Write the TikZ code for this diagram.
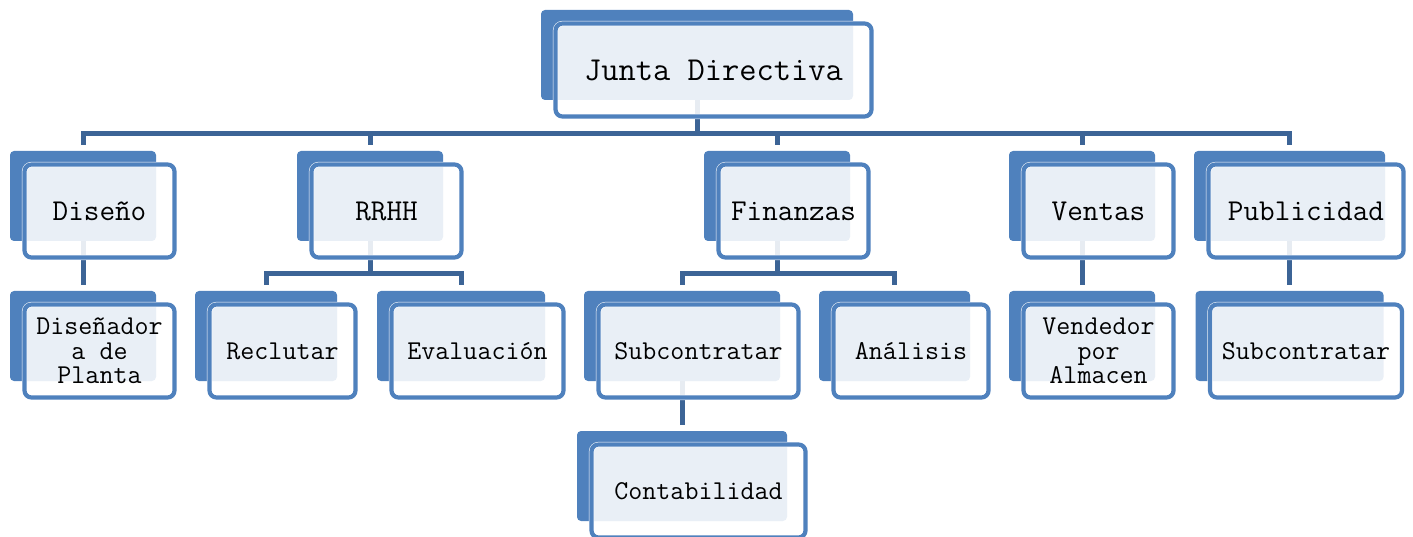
\documentclass[tikz,border=0pt]{standalone}
\usepackage{fontspec}
\usetikzlibrary{backgrounds}

\definecolor{azul}{HTML}{4F81BD}
\definecolor{linea}{HTML}{3C6496}

\tikzset{
    atras/.style={rectangle, rounded corners=4pt, fill=azul, minimum height=90pt, inner sep=0pt},
    frente/.style={rectangle, rounded corners=7pt, draw=white, double=azul, line width=0.5pt,
        double distance=4.2pt, fill=white, fill opacity=0.88, text opacity=1, minimum height=93pt,
        inner sep=0pt, align=center, font=\ttfamily\fontsize{27.2}{24.6}\selectfont},
    grande/.style={font=\ttfamily\fontsize{30.3}{32}\selectfont},
    titulo/.style={font=\ttfamily\fontsize{33.5}{35}\selectfont},
    conector/.style={draw=linea, line width=5pt},
}

\begin{document}
\begin{tikzpicture}[x=1pt, y=-1pt]
        \useasboundingbox (0,0) rectangle (1413,537);

        \node[atras, minimum width=312pt] (junta) at (697, 55) {};
        \node[frente, titulo, minimum width=316pt] (junta-t) at (713.5, 70) {Junta Directiva};

        \node[atras, minimum width=146pt] (diseno) at (83, 196) {};
        \node[frente, grande, minimum width=150pt] (diseno-t) at (99.5, 211) {Diseño};
        \node[atras, minimum width=146pt] (rrhh) at (370, 196) {};
        \node[frente, grande, minimum width=150pt] (rrhh-t) at (386.5, 211) {RRHH};
        \node[atras, minimum width=146pt] (finanzas) at (777, 196) {};
        \node[frente, grande, minimum width=150pt] (finanzas-t) at (793.5, 211) {Finanzas};
        \node[atras, minimum width=146pt] (ventas) at (1082, 196) {};
        \node[frente, grande, minimum width=150pt] (ventas-t) at (1098.5, 211) {Ventas};
        \node[atras, minimum width=191pt] (publicidad) at (1289.5, 196) {};
        \node[frente, grande, minimum width=195pt] (publicidad-t) at (1306, 211) {Publicidad};

        \node[atras, minimum width=146pt] (disenador) at (83, 336) {};
        \node[frente, minimum width=150pt] (disenador-t) at (99.5, 351) {Diseñador\\a de\\Planta};
        \node[atras, minimum width=142pt] (reclutar) at (266, 336) {};
        \node[frente, minimum width=146pt] (reclutar-t) at (282.5, 351) {Reclutar};
        \node[atras, minimum width=168pt] (evaluacion) at (461, 336) {};
        \node[frente, minimum width=172pt] (evaluacion-t) at (477.5, 351) {Evaluación};
        \node[atras, minimum width=196pt] (subcontratar) at (682, 336) {};
        \node[frente, minimum width=200pt] (subcontratar-t) at (698.5, 351) {Subcontratar};
        \node[atras, minimum width=151pt] (analisis) at (894.5, 336) {};
        \node[frente, minimum width=155pt] (analisis-t) at (911, 351) {Análisis};
        \node[atras, minimum width=146pt] (vendedor) at (1082, 336) {};
        \node[frente, minimum width=150pt] (vendedor-t) at (1098.5, 351) {Vendedor\\por\\Almacen};
        \node[atras, minimum width=188pt] (subpub) at (1289.5, 336) {};
        \node[frente, minimum width=192pt] (subpub-t) at (1306, 351) {Subcontratar};

        \node[atras, minimum width=210pt] (contabilidad) at (682, 476) {};
        \node[frente, minimum width=214pt] (contabilidad-t) at (698.5, 491) {Contabilidad};

        % lineas detras de las cajas
        \begin{pgfonlayer}{background}
        \draw[conector] (junta.south) -- ++(0,33.5) coordinate (bus);
        \draw[conector, shorten >=6pt] (bus) -| (diseno.north);
        \draw[conector, shorten >=6pt] (bus) -| (rrhh.north);
        \draw[conector, shorten >=6pt] (bus) -| (finanzas.north);
        \draw[conector, shorten >=6pt] (bus) -| (ventas.north);
        \draw[conector, shorten >=6pt] (bus) -| (publicidad.north);

        \draw[conector] (rrhh.south) -- ++(0,32.5) coordinate (bus-rrhh);
        \draw[conector, shorten >=6pt] (bus-rrhh) -| (reclutar.north);
        \draw[conector, shorten >=6pt] (bus-rrhh) -| (evaluacion.north);
        \draw[conector] (finanzas.south) -- ++(0,32.5) coordinate (bus-fin);
        \draw[conector, shorten >=6pt] (bus-fin) -| (subcontratar.north);
        \draw[conector, shorten >=6pt] (bus-fin) -| (analisis.north);

        \draw[conector, shorten >=6pt] (diseno.south) -- (disenador.north);
        \draw[conector, shorten >=6pt] (ventas.south) -- (vendedor.north);
        \draw[conector, shorten >=6pt] (publicidad.south) -- (subpub.north);
        \draw[conector, shorten >=6pt] (subcontratar.south) -- (contabilidad.north);
        \end{pgfonlayer}

    \end{tikzpicture}
\end{document}
